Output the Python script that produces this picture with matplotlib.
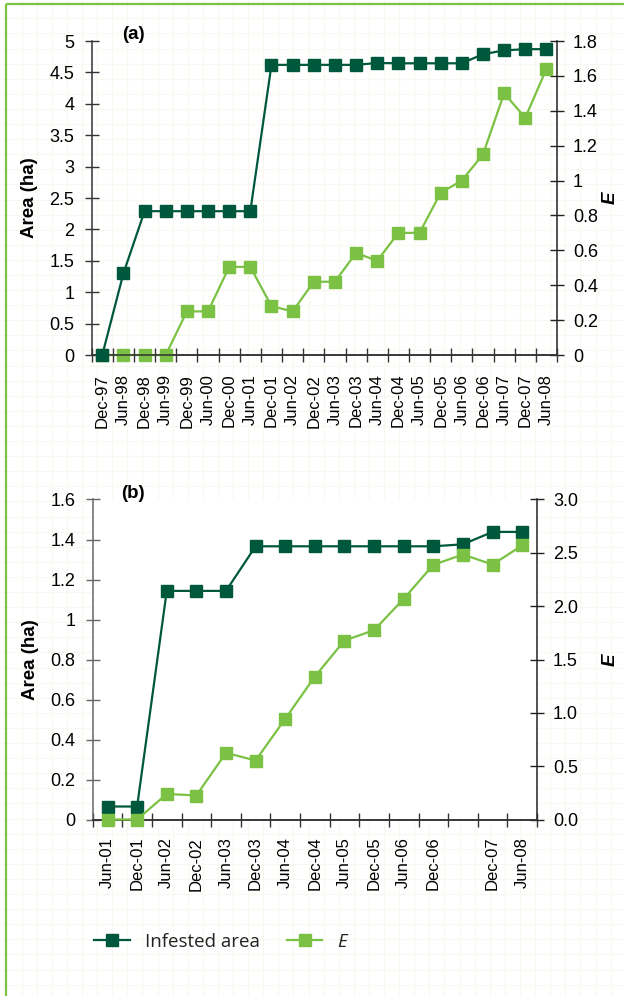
import numpy as np
import matplotlib
matplotlib.use("Agg")
import matplotlib.pyplot as plt
from matplotlib.lines import Line2D

plt.rcParams['font.family'] = ['Liberation Sans', 'DejaVu Sans']

# Panel (a): Dec-97 to Jun-08
dates_a = ['Dec-97', 'Jun-98', 'Dec-98', 'Jun-99', 'Dec-99', 'Jun-00', 'Dec-00',
           'Jun-01', 'Dec-01', 'Jun-02', 'Dec-02', 'Jun-03', 'Dec-03', 'Jun-04',
           'Dec-04', 'Jun-05', 'Dec-05', 'Jun-06', 'Dec-06', 'Jun-07', 'Dec-07', 'Jun-08']
area_a = [0, 1.30, 2.29, 2.29, 2.29, 2.29, 2.29, 2.29, 4.62, 4.62, 4.62, 4.62, 4.62,
          4.65, 4.645, 4.645, 4.645, 4.645, 4.79, 4.85, 4.87, 4.87]
e_a = [0, 0, 0, 0, 0.25, 0.25, 0.505, 0.505, 0.28, 0.25, 0.42, 0.42, 0.585, 0.54,
       0.70, 0.70, 0.93, 1.00, 1.15, 1.50, 1.36, 1.64]

# Panel (b): Jun-01 to Jun-08 (Jun-07 left unlabelled)
dates_b = ['Jun-01', 'Dec-01', 'Jun-02', 'Dec-02', 'Jun-03', 'Dec-03', 'Jun-04',
           'Dec-04', 'Jun-05', 'Dec-05', 'Jun-06', 'Dec-06', '', 'Dec-07', 'Jun-08']
area_b = [0.065, 0.065, 1.143, 1.143, 1.143, 1.366, 1.366, 1.366, 1.366, 1.366,
          1.366, 1.366, 1.376, 1.438, 1.438]
e_b = [0, 0, 0.24, 0.225, 0.625, 0.553, 0.944, 1.34, 1.678, 1.775, 2.069, 2.388,
       2.484, 2.39, 2.57]

dark = '#00583c'
light = '#7bc143'
frame_green = '#7dc242'

W, H = 624, 996
fig = plt.figure(figsize=(W / 100, H / 100), dpi=100)
fig.patch.set_facecolor('white')

# faint graph-paper background and the green frame
bg = fig.add_axes([0, 0, 1, 1], zorder=-10)
bg.set_xlim(0, W)
bg.set_ylim(H, 0)
bg.axis('off')
bg.vlines(np.arange(21.7, W, 15.1), 0, H, color='#f8f8ef', lw=0.8)
bg.hlines(np.arange(18.3, H, 15.1), 0, W, color='#f8f8ef', lw=0.8)
bg.plot([6, 6], [4, H], color=frame_green, lw=1.6, solid_capstyle='butt')
bg.plot([6, W], [4, 4], color=frame_green, lw=1.6, solid_capstyle='butt')


def px_axes(left, top, right, bottom):
    return fig.add_axes([left / W, 1 - bottom / H, (right - left) / W, (bottom - top) / H])


def panel(ax, dates, area, e, ymax_l, yticks_l, ylabels_l, ymax_r, yticks_r, ylabels_r,
          xpad, e_on_top, tag, left_spine_color, elabel_x):
    n = len(dates)
    x = np.arange(n)
    ax2 = ax.twinx()
    ax.plot(x, area, color=dark, lw=1.6, marker='s', ms=8.3, clip_on=False, zorder=4)
    ax2.plot(x, e, color=light, lw=1.6, marker='s', ms=8.3, clip_on=False, zorder=4)
    if not e_on_top:
        ax.set_zorder(ax2.get_zorder() + 1)
        ax.patch.set_visible(False)

    # labels sit at category centres, tick marks at the boundaries between them
    ax.set_xlim(-0.5, n - 0.5)
    ax.set_xticks(x)
    ax.set_xticks(np.arange(-0.5, n, 1.0), minor=True)
    ax.tick_params(axis='x', which='major', length=0, pad=xpad)
    ax.tick_params(axis='x', which='minor', direction='inout', length=10, width=1,
                   color='#333333')
    ax.set_xticklabels(dates, rotation=90, fontsize=12, va='top')

    ax.set_ylim(0, ymax_l)
    ax.set_yticks(yticks_l)
    ax.set_yticklabels(ylabels_l, fontsize=13)
    ax.tick_params(axis='y', direction='inout', length=10, width=1, pad=7.5,
                   color=left_spine_color)
    ax.spines['left'].set_color(left_spine_color)
    ax.spines['right'].set_visible(False)
    ax.spines['top'].set_visible(False)
    ax.spines['bottom'].set_color('#333333')

    ax2.set_ylim(0, ymax_r)
    ax2.set_yticks(yticks_r)
    ax2.set_yticklabels(ylabels_r, fontsize=13)
    ax2.tick_params(axis='y', direction='inout', length=10, width=1, pad=6.5,
                    color='#222222')
    ax2.spines['right'].set_color('#222222')
    ax2.spines['left'].set_visible(False)
    ax2.spines['top'].set_visible(False)
    ax2.spines['bottom'].set_color('#333333')

    for s in list(ax.spines.values()) + list(ax2.spines.values()):
        s.set_linewidth(1.1)

    ax.set_ylabel('Area (ha)', fontsize=13.5, fontweight='bold', labelpad=8)
    ax2.set_ylabel('E', fontsize=13.5, fontweight='bold', fontstyle='italic')
    ax2.yaxis.set_label_coords(elabel_x, 0.5)
    ax.text(0.09, 1.02, tag, transform=ax.transAxes, fontsize=13.5, fontweight='bold',
            ha='center', va='center')


ax_a = px_axes(91.7, 41, 557, 355)
panel(ax_a, dates_a, area_a, e_a,
      5, np.arange(0, 5.01, 0.5), ['0', '0.5', '1', '1.5', '2', '2.5', '3', '3.5', '4', '4.5', '5'],
      1.8, np.arange(0, 1.81, 0.2), ['0', '0.2', '0.4', '0.6', '0.8', '1', '1.2', '1.4', '1.6', '1.8'],
      xpad=13.5, e_on_top=False, tag='(a)', left_spine_color='#333333',
      elabel_x=(602 - 91.7) / (557 - 91.7))

ax_b = px_axes(92.7, 499.5, 537, 819.5)
panel(ax_b, dates_b, area_b, e_b,
      1.6, np.arange(0, 1.61, 0.2), ['0', '0.2', '0.4', '0.6', '0.8', '1', '1.2', '1.4', '1.6'],
      3.0, np.arange(0, 3.01, 0.5), ['0.0', '0.5', '1.0', '1.5', '2.0', '2.5', '3.0'],
      xpad=12.5, e_on_top=True, tag='(b)', left_spine_color='#666666',
      elabel_x=(602 - 92.7) / (537 - 92.7))

handles = [Line2D([], [], color=dark, lw=1.6, marker='s', ms=8.3),
           Line2D([], [], color=light, lw=1.6, marker='s', ms=8.3)]
leg = fig.legend(handles, ['Infested area', 'E'], loc='center left',
                 bbox_to_anchor=(94 / W, 1 - 942 / H), ncol=2, frameon=False,
                 prop={'family': ['Open Sans', 'DejaVu Sans'], 'size': 13.5},
                 handlelength=1.9, handletextpad=0.8, columnspacing=1.45, borderpad=0,
                 borderaxespad=0)
leg.get_texts()[1].set_fontstyle('italic')
for t in leg.get_texts():
    t.set_color('#222222')

fig.savefig('out.png', dpi=100)
